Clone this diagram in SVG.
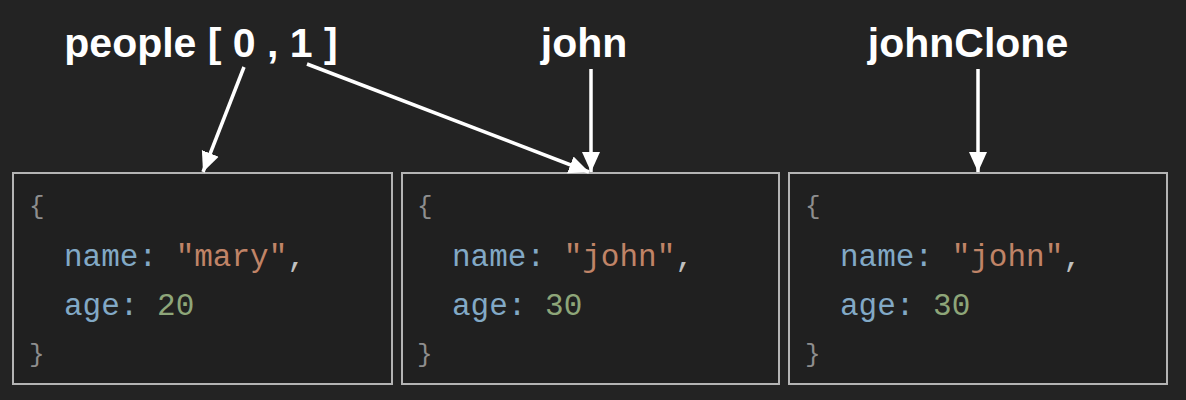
<svg xmlns="http://www.w3.org/2000/svg" width="1186" height="400" viewBox="0 0 1186 400">
<defs>
<style>
.lbl{font-family:"Liberation Sans",Arial,sans-serif;font-weight:bold;font-size:41px;fill:#ffffff;text-anchor:middle}
.box{fill:#202020;stroke:#b4b4b4;stroke-width:2}
.code{font-family:"Liberation Mono","Courier New",monospace;font-size:31px}
.brc{font-family:"Liberation Mono","Courier New",monospace;font-size:26px;fill:#8e8e8e}
.key{fill:#82a9c6}
.str{fill:#c08467}
.num{fill:#8ea679}
.pun{fill:#c0c0c0}
.con{stroke:#ffffff;stroke-width:3.5;fill:none}
</style>
<marker id="ah" markerUnits="userSpaceOnUse" markerWidth="20" markerHeight="20" viewBox="0 0 20 18" refX="20" refY="9" orient="auto">
<path d="M0,0 L20,9 L0,18 Z" fill="#ffffff"/>
</marker>
</defs>
<rect width="1186" height="400" fill="#232323"/>
<g id="label-people"><text class="lbl" x="201" y="57">people [ 0 , 1 ]</text></g>
<g id="label-john"><text class="lbl" x="584" y="57">john</text></g>
<g id="label-johnClone"><text class="lbl" x="968" y="57">johnClone</text></g>
<g id="obj-mary">
<rect class="box" x="13" y="173" width="379" height="211"/>
<text class="brc" x="29" y="214">{</text>
<text class="code" x="64" y="266"><tspan class="key">name:</tspan><tspan class="pun"> </tspan><tspan class="str">"mary"</tspan><tspan class="pun">,</tspan></text>
<text class="code" x="64" y="315"><tspan class="key">age:</tspan><tspan class="pun"> </tspan><tspan class="num">20</tspan></text>
<text class="brc" x="29" y="362">}</text>
</g>
<g id="obj-john">
<rect class="box" x="402" y="173" width="377" height="211"/>
<text class="brc" x="417" y="214">{</text>
<text class="code" x="452" y="266"><tspan class="key">name:</tspan><tspan class="pun"> </tspan><tspan class="str">"john"</tspan><tspan class="pun">,</tspan></text>
<text class="code" x="452" y="315"><tspan class="key">age:</tspan><tspan class="pun"> </tspan><tspan class="num">30</tspan></text>
<text class="brc" x="417" y="362">}</text>
</g>
<g id="obj-johnClone">
<rect class="box" x="789" y="173" width="378" height="211"/>
<text class="brc" x="805" y="214">{</text>
<text class="code" x="840" y="266"><tspan class="key">name:</tspan><tspan class="pun"> </tspan><tspan class="str">"john"</tspan><tspan class="pun">,</tspan></text>
<text class="code" x="840" y="315"><tspan class="key">age:</tspan><tspan class="pun"> </tspan><tspan class="num">30</tspan></text>
<text class="brc" x="805" y="362">}</text>
</g>
<g id="connectors">
<line class="con" x1="244" y1="67" x2="203" y2="172" marker-end="url(#ah)"/>
<line class="con" x1="307" y1="64" x2="589" y2="172" marker-end="url(#ah)"/>
<line class="con" x1="591" y1="69" x2="591" y2="172" marker-end="url(#ah)"/>
<line class="con" x1="978" y1="69" x2="978" y2="172" marker-end="url(#ah)"/>
</g>
</svg>
